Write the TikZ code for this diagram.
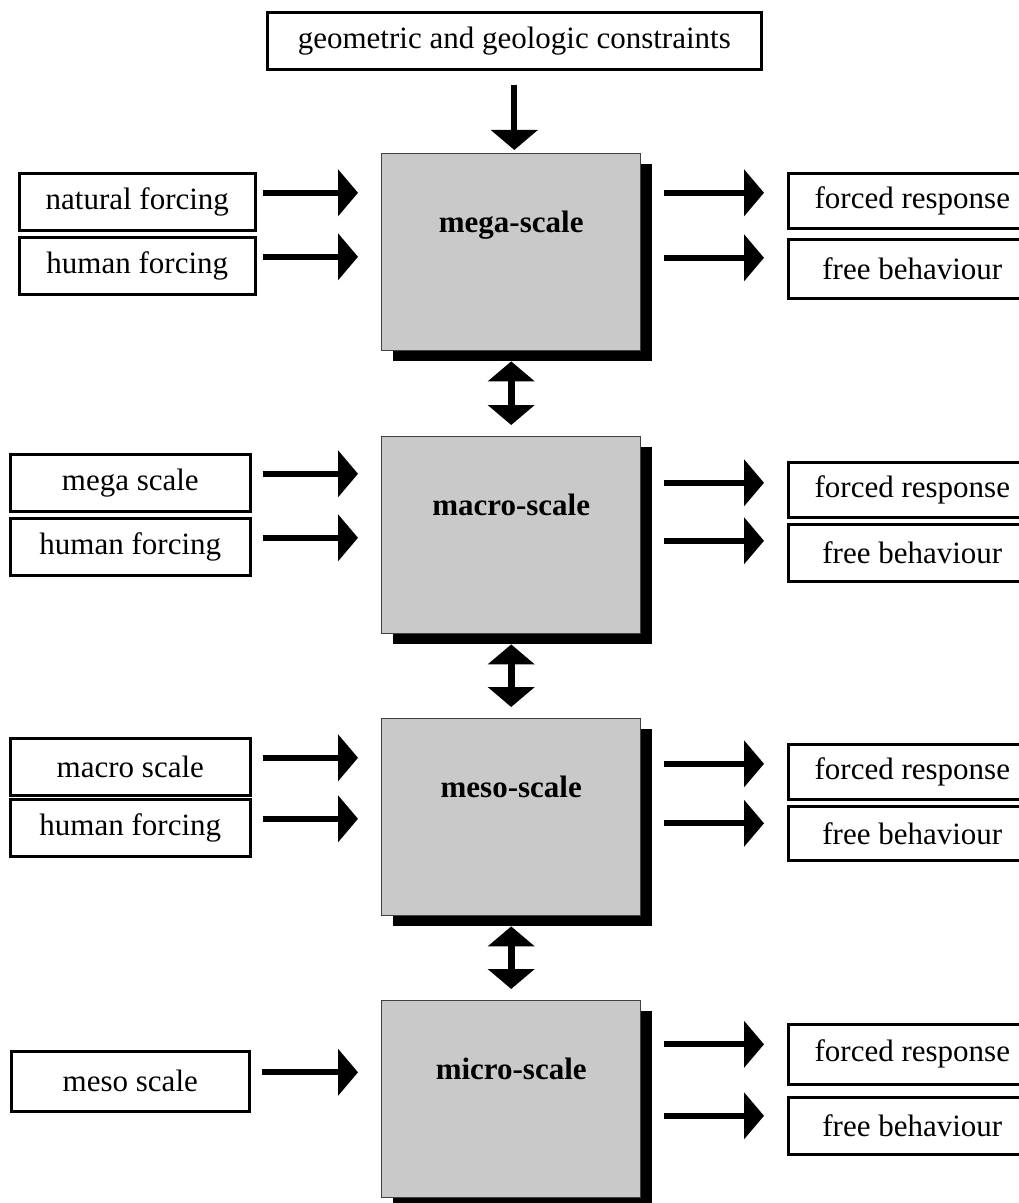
\documentclass[tikz,border=0pt]{standalone}
\usepackage{fontspec}
\setmainfont{Liberation Serif}
\usetikzlibrary{arrows.meta, shadows}

\begin{document}
\begin{tikzpicture}[
    x=0.5pt, y={(0pt,-0.5pt)},
    font=\fontsize{15.5}{18}\selectfont,
    inbox/.style={rectangle, draw=black, line width=1.3pt, inner sep=0pt,
                  anchor=north west, minimum height=28.5pt},
    scalebox/.style={rectangle, draw=black!75, line width=0.7pt, fill=black!21,
                     inner sep=0pt, anchor=north west, minimum width=129.5pt,
                     text height=39.5pt, text depth=59pt,
                     font=\fontsize{15.5}{18}\selectfont\bfseries,
                     drop shadow={shadow xshift=5.5pt, shadow yshift=-5pt,
                                  fill=black, opacity=1}},
    arrow/.style={-{Triangle[length=10pt, width=23pt]}, line width=3pt},
    both/.style={{Triangle[length=10pt, width=23pt]}-{Triangle[length=10pt, width=23pt]},
                 line width=3.5pt}
]
    \useasboundingbox (0,0) rectangle (1018,1203);

    % the four scales
    \node[scalebox] (mega)  at (381,153)  {mega-scale};
    \node[scalebox] (macro) at (381,436)  {macro-scale};
    \node[scalebox] (meso)  at (381,718)  {meso-scale};
    \node[scalebox] (micro) at (381,1000) {micro-scale};

    \node[inbox, minimum width=247pt] (geo) at (266,11)
        {geometric and geologic constraints};

    % inputs
    \node[inbox, minimum width=118pt] (nat1)  at (18,172)  {natural forcing};
    \node[inbox, minimum width=118pt] (hum1)  at (18,236)  {human forcing};
    \node[inbox, minimum width=120pt] (mega2) at (9,453)   {mega scale};
    \node[inbox, minimum width=120pt] (hum2)  at (9,517)   {human forcing};
    \node[inbox, minimum width=120pt] (mac3)  at (9,737)   {macro scale};
    \node[inbox, minimum width=120pt] (hum3)  at (9,798)   {human forcing};
    \node[inbox, minimum width=119pt, minimum height=30pt] (mes4) at (10,1050) {meso scale};

    % outputs
    \node[inbox, minimum width=124pt, minimum height=27.5pt] (frc1) at (787,172)  {forced response};
    \node[inbox, minimum width=124pt, minimum height=29.5pt] (fre1) at (787,238)  {free behaviour};
    \node[inbox, minimum width=124pt, minimum height=27.5pt] (frc2) at (787,461)  {forced response};
    \node[inbox, minimum width=124pt] (fre2) at (787,523)  {free behaviour};
    \node[inbox, minimum width=124pt, minimum height=27.5pt] (frc3) at (787,743)  {forced response};
    \node[inbox, minimum width=124pt, minimum height=27pt]   (fre3) at (787,805)  {free behaviour};
    \node[inbox, minimum width=124pt, minimum height=30pt]   (frc4) at (787,1023) {forced response};
    \node[inbox, minimum width=124pt] (fre4) at (787,1096) {free behaviour};

    \draw[arrow, shorten <=7pt, shorten >=1.5pt] (geo.south) -- (geo.south |- mega.north);

    \draw[arrow, shorten <=3pt, shorten >=11.5pt] ([yshift=4.5pt]nat1.east)  -- ([yshift=4.5pt]nat1.east -| mega.west);
    \draw[arrow, shorten <=3pt, shorten >=11.5pt] ([yshift=4.5pt]hum1.east)  -- ([yshift=4.5pt]hum1.east -| mega.west);
    \draw[arrow, shorten <=5.5pt, shorten >=11.5pt] ([yshift=4.5pt]mega2.east) -- ([yshift=4.5pt]mega2.east -| macro.west);
    \draw[arrow, shorten <=5.5pt, shorten >=11.5pt] ([yshift=4.5pt]hum2.east)  -- ([yshift=4.5pt]hum2.east -| macro.west);
    \draw[arrow, shorten <=5.5pt, shorten >=11.5pt] ([yshift=4.5pt]mac3.east)  -- ([yshift=4.5pt]mac3.east -| meso.west);
    \draw[arrow, shorten <=5.5pt, shorten >=11.5pt] ([yshift=4.5pt]hum3.east)  -- ([yshift=4.5pt]hum3.east -| meso.west);
    \draw[arrow, shorten <=5.5pt, shorten >=11.5pt] ([yshift=4.5pt]mes4.east)  -- ([yshift=4.5pt]mes4.east -| micro.west);

    \draw[arrow, shorten <=11.5pt, shorten >=11.5pt] ([yshift=4pt]frc1.west -| mega.east)  -- ([yshift=4pt]frc1.west);
    \draw[arrow, shorten <=11.5pt, shorten >=11.5pt] ([yshift=5.5pt]fre1.west -| mega.east)  -- ([yshift=5.5pt]fre1.west);
    \draw[arrow, shorten <=11.5pt, shorten >=11.5pt] ([yshift=3.5pt]frc2.west -| macro.east) -- ([yshift=3.5pt]frc2.west);
    \draw[arrow, shorten <=11.5pt, shorten >=11.5pt] ([yshift=6pt]fre2.west -| macro.east) -- ([yshift=6pt]fre2.west);
    \draw[arrow, shorten <=11.5pt, shorten >=11.5pt] ([yshift=4pt]frc3.west -| meso.east)  -- ([yshift=4pt]frc3.west);
    \draw[arrow, shorten <=11.5pt, shorten >=11.5pt] ([yshift=5pt]fre3.west -| meso.east)  -- ([yshift=5pt]fre3.west);
    \draw[arrow, shorten <=11.5pt, shorten >=11.5pt] ([yshift=5pt]frc4.west -| micro.east) -- ([yshift=5pt]frc4.west);
    \draw[arrow, shorten <=11.5pt, shorten >=11.5pt] ([yshift=5pt]fre4.west -| micro.east) -- ([yshift=5pt]fre4.west);

    \draw[both, shorten <=5pt, shorten >=5.5pt] (mega.south) -- (macro.north);
    \draw[both, shorten <=5pt, shorten >=5.5pt] (macro.south) -- (meso.north);
    \draw[both, shorten <=5pt, shorten >=5.5pt] (meso.south) -- (micro.north);
\end{tikzpicture}
\end{document}
